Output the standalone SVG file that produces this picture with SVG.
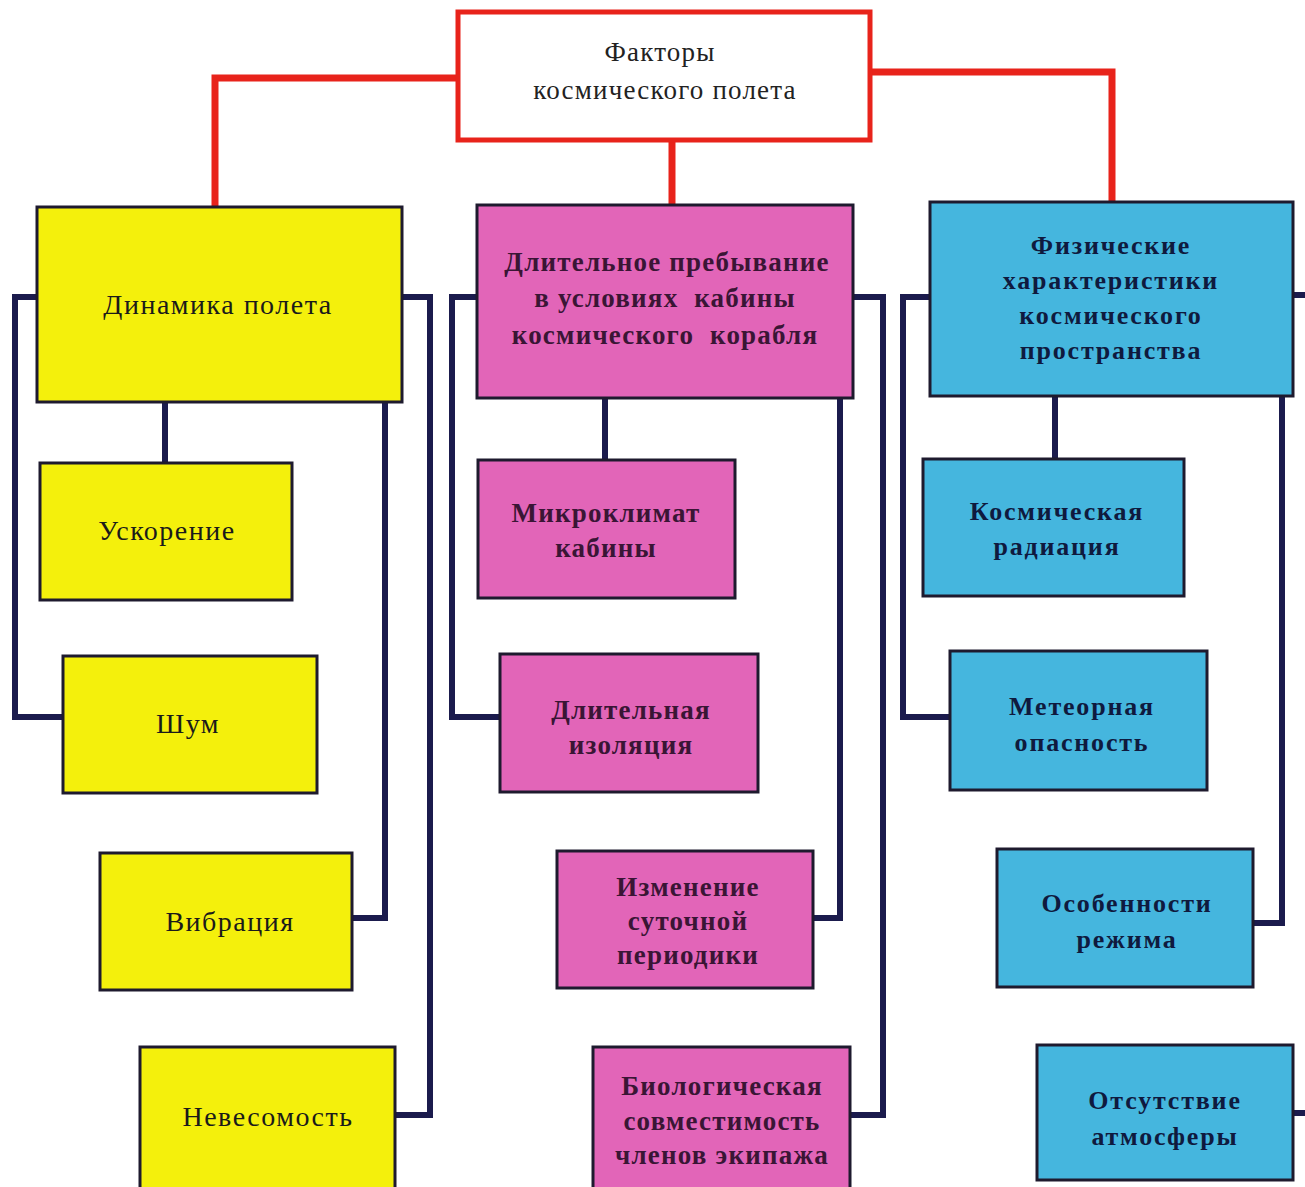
<svg xmlns="http://www.w3.org/2000/svg" width="1305" height="1187" viewBox="0 0 1305 1187">
<style>
.red{fill:none;stroke:#e8231b;stroke-width:7;stroke-linejoin:miter}
.nav{fill:none;stroke:#1b1b4d;stroke-width:6;stroke-linejoin:miter}
.box{stroke:#1e1a2e;stroke-width:3}
.y{fill:#f4f00c}
.p{fill:#e265b8}
.b{fill:#45b6de}
.top{fill:#ffffff;stroke:#e8231b;stroke-width:5}
text{font-family:"Liberation Serif","DejaVu Serif",serif;text-anchor:middle}
.ty{font-size:28px;fill:#1a1a1a;letter-spacing:1.5px}
.tp{font-size:27px;fill:#3a1535;font-weight:bold;letter-spacing:1.2px}
.tb{font-size:26px;fill:#0f1a3e;font-weight:bold;letter-spacing:1.8px}
.tt{font-size:27px;fill:#222;letter-spacing:1.2px}
</style>
<g id="connectors">
<path class="red" d="M458 78 H215 V207"/>
<path class="red" d="M672 140 V205"/>
<path class="red" d="M870 72 H1112 V203"/>
<path class="nav" d="M165 402 V463"/>
<path class="nav" d="M37 297 H15 V717 H63"/>
<path class="nav" d="M385 402 V918 H352"/>
<path class="nav" d="M402 297 H430 V1115 H395"/>
<path class="nav" d="M605 398 V460"/>
<path class="nav" d="M477 297 H452 V717 H500"/>
<path class="nav" d="M840 398 V918 H813"/>
<path class="nav" d="M853 297 H883 V1115 H850"/>
<path class="nav" d="M1055 396 V459"/>
<path class="nav" d="M930 297 H903 V717 H950"/>
<path class="nav" d="M1282 396 V923 H1253"/>
<path class="nav" d="M1293 295 H1310"/>
<path class="nav" d="M1293 1113 H1310"/>
</g>
<g id="root"><rect class="top" x="458" y="12" width="412" height="128"/>
<text class="tt" x="660" y="61">Факторы</text><text class="tt" x="665" y="99">космического полета</text></g>
<g id="dyn"><rect class="box y" x="37" y="207" width="365" height="195"/><text class="ty" x="218" y="314">Динамика полета</text></g>
<g id="accel"><rect class="box y" x="40" y="463" width="252" height="137"/><text class="ty" x="167" y="540">Ускорение</text></g>
<g id="noise"><rect class="box y" x="63" y="656" width="254" height="137"/><text class="ty" x="188" y="733">Шум</text></g>
<g id="vib"><rect class="box y" x="100" y="853" width="252" height="137"/><text class="ty" x="230" y="931">Вибрация</text></g>
<g id="weight"><rect class="box y" x="140" y="1047" width="255" height="145"/><text class="ty" x="268" y="1126">Невесомость</text></g>
<g id="stay"><rect class="box p" x="477" y="205" width="376" height="193"/>
<text class="tp" x="667" y="271">Длительное пребывание</text><text class="tp" x="665" y="307" xml:space="preserve">в условиях  кабины</text><text class="tp" x="665" y="344" xml:space="preserve">космического  корабля</text></g>
<g id="micro"><rect class="box p" x="478" y="460" width="257" height="138"/><text class="tp" x="606" y="522">Микроклимат</text><text class="tp" x="606" y="557">кабины</text></g>
<g id="isol"><rect class="box p" x="500" y="654" width="258" height="138"/><text class="tp" x="631" y="719">Длительная</text><text class="tp" x="631" y="754">изоляция</text></g>
<g id="circ"><rect class="box p" x="557" y="851" width="256" height="137"/><text class="tp" x="688" y="896">Изменение</text><text class="tp" x="688" y="930">суточной</text><text class="tp" x="688" y="964">периодики</text></g>
<g id="bio"><rect class="box p" x="593" y="1047" width="257" height="145"/><text class="tp" x="722" y="1095">Биологическая</text><text class="tp" x="722" y="1130">совместимость</text><text class="tp" x="722" y="1164">членов экипажа</text></g>
<g id="phys"><rect class="box b" x="930" y="202" width="363" height="194"/>
<text class="tb" x="1111" y="254">Физические</text><text class="tb" x="1111" y="289">характеристики</text><text class="tb" x="1111" y="324">космического</text><text class="tb" x="1111" y="359">пространства</text></g>
<g id="rad"><rect class="box b" x="923" y="459" width="261" height="137"/><text class="tb" x="1057" y="520">Космическая</text><text class="tb" x="1057" y="555">радиация</text></g>
<g id="meteor"><rect class="box b" x="950" y="651" width="257" height="139"/><text class="tb" x="1082" y="715">Метеорная</text><text class="tb" x="1082" y="751">опасность</text></g>
<g id="mode"><rect class="box b" x="997" y="849" width="256" height="138"/><text class="tb" x="1127" y="912">Особенности</text><text class="tb" x="1127" y="948">режима</text></g>
<g id="atm"><rect class="box b" x="1037" y="1045" width="256" height="135"/><text class="tb" x="1165" y="1109">Отсутствие</text><text class="tb" x="1165" y="1145">атмосферы</text></g>
</svg>
